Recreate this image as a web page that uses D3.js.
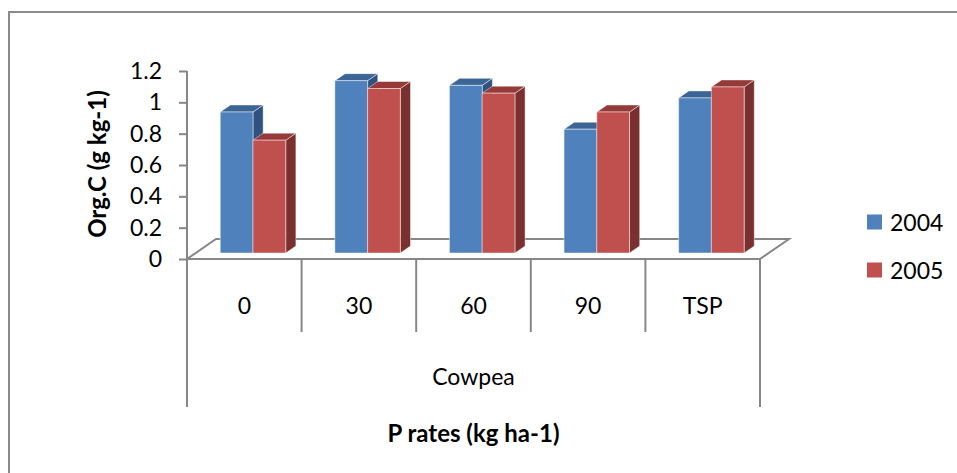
<!DOCTYPE html>
<html>
<head>
<meta charset="utf-8">
<script src="https://cdn.jsdelivr.net/npm/d3@7"></script>
<style>
  html, body { margin: 0; padding: 0; background: #fff; }
  svg { display: block; font-family: Lato, "Open Sans", sans-serif; }
</style>
</head>
<body>
<svg id="chart" width="957" height="473"></svg>
<script>
// P rate categories and organic carbon values per year
const categories = ["0", "30", "60", "90", "TSP"];
const years = ["2004", "2005"];
const values2004 = [0.90, 1.10, 1.07, 0.79, 0.99];
const values2005 = [0.72, 1.05, 1.02, 0.90, 1.06];
const yTickValues = [0, 0.2, 0.4, 0.6, 0.8, 1, 1.2];
const groupLabel = "Cowpea";
const xTitle = "P rates (kg ha-1)";
const yTitle = "Org.C (g kg-1)";

const seriesValues = { "2004": values2004, "2005": values2005 };
const colors = {
  "2004": { front: "#4f81bd", top: "#3c6596", side: "#2f5281" },
  "2005": { front: "#c0504d", top: "#953a38", side: "#7a302e" }
};

const svg = d3.select("#chart");
const axisColor = "#878787";
const labelSize = 23;
const titleSize = 24;

// outer chart frame (runs off the right and bottom edges)
svg.append("rect")
  .attr("x", 9).attr("y", 12)
  .attr("width", 1000).attr("height", 500)
  .attr("fill", "none").attr("stroke", "#8a8a8a").attr("stroke-width", 2);

// front plane scales
const x = d3.scaleBand().domain(categories).range([187, 760]).paddingInner(0).paddingOuter(0);
const xs = d3.scaleBand().domain(years).range([0, x.bandwidth()]).paddingInner(0).paddingOuter(0.75);
const y = d3.scaleLinear().domain([0, 1.2]).range([259, 71]);

// oblique depth vector of the floor, bar plane position and bar depth
const depth = { dx: 29, dy: -20 };
const barPlane = 0.3;
const barDepth = 0.35;
const [x0, x1] = x.range();
const yBase = y(0);

// floor outline
const floor = svg.append("g").attr("fill", "none").attr("stroke", axisColor).attr("stroke-width", 2);
floor.append("path")
  .attr("d", `M${x0},${yBase} L${x0 + depth.dx},${yBase + depth.dy} L${x1 + depth.dx},${yBase + depth.dy} L${x1},${yBase}`);

// bars
const bx = depth.dx * barPlane, by = depth.dy * barPlane;
const ddx = depth.dx * barDepth, ddy = depth.dy * barDepth;
const bars = svg.append("g");
categories.forEach((c, i) => {
  years.forEach(yr => {
    const v = seriesValues[yr][i];
    const left = x(c) + xs(yr) + bx;
    const right = left + xs.bandwidth();
    const top = y(v) + by;
    const bottom = yBase + by;
    const g = bars.append("g").attr("stroke", "rgba(255,255,255,0.45)").attr("stroke-width", 1).attr("stroke-linejoin", "round");
    g.append("path").attr("fill", colors[yr].side)
      .attr("d", `M${right},${bottom} L${right + ddx},${bottom + ddy} L${right + ddx},${top + ddy} L${right},${top} Z`);
    g.append("path").attr("fill", colors[yr].top)
      .attr("d", `M${left},${top} L${left + ddx},${top + ddy} L${right + ddx},${top + ddy} L${right},${top} Z`);
    g.append("rect").attr("fill", colors[yr].front)
      .attr("x", left).attr("y", top).attr("width", right - left).attr("height", bottom - top);
  });
});

// value axis
const yAxis = d3.axisLeft(y).tickValues(yTickValues).tickSize(8).tickPadding(17)
  .tickFormat(d => d3.format("~g")(d));
const yAxisG = svg.append("g").attr("transform", `translate(${x0},0)`).call(yAxis);
yAxisG.select(".domain").attr("stroke", axisColor).attr("stroke-width", 2)
  .attr("d", `M0,${y(1.2)} V${407}`);
yAxisG.selectAll(".tick line").attr("stroke", axisColor).attr("stroke-width", 2);
yAxisG.selectAll(".tick text").attr("fill", "#000").attr("font-size", labelSize)
  .attr("font-family", "Lato, sans-serif");

// category axis: front edge, dividers and labels
const catG = svg.append("g");
catG.append("line").attr("x1", x0).attr("x2", x1).attr("y1", yBase).attr("y2", yBase)
  .attr("stroke", axisColor).attr("stroke-width", 2);
categories.slice(1).forEach(c => {
  catG.append("line").attr("x1", x(c)).attr("x2", x(c)).attr("y1", yBase).attr("y2", 332)
    .attr("stroke", axisColor).attr("stroke-width", 2);
});
catG.append("line").attr("x1", x1).attr("x2", x1).attr("y1", yBase).attr("y2", 407)
  .attr("stroke", axisColor).attr("stroke-width", 2);
catG.selectAll("text.cat").data(categories).join("text")
  .attr("class", "cat")
  .attr("x", d => x(d) + x.bandwidth() / 2).attr("y", 305)
  .attr("text-anchor", "middle").attr("dominant-baseline", "central")
  .attr("font-size", labelSize).text(d => d);
catG.append("text")
  .attr("x", (x0 + x1) / 2).attr("y", 376)
  .attr("text-anchor", "middle").attr("dominant-baseline", "central")
  .attr("font-size", labelSize).text(groupLabel);

// axis titles
svg.append("text")
  .attr("x", (x0 + x1) / 2).attr("y", 432)
  .attr("text-anchor", "middle").attr("dominant-baseline", "central")
  .attr("font-size", titleSize).attr("font-weight", "bold").text(xTitle);
svg.append("text")
  .attr("transform", "translate(96,164) rotate(-90)")
  .attr("text-anchor", "middle").attr("dominant-baseline", "central")
  .attr("font-size", titleSize).attr("font-weight", "bold").text(yTitle);

// legend
const legend = svg.append("g");
years.forEach((yr, i) => {
  const cy = 222 + i * 48;
  legend.append("rect").attr("x", 867).attr("y", cy - 7.5).attr("width", 15).attr("height", 15)
    .attr("fill", colors[yr].front);
  legend.append("text").attr("x", 890).attr("y", cy)
    .attr("dominant-baseline", "central").attr("font-size", labelSize).text(yr);
});
</script>
</body>
</html>
